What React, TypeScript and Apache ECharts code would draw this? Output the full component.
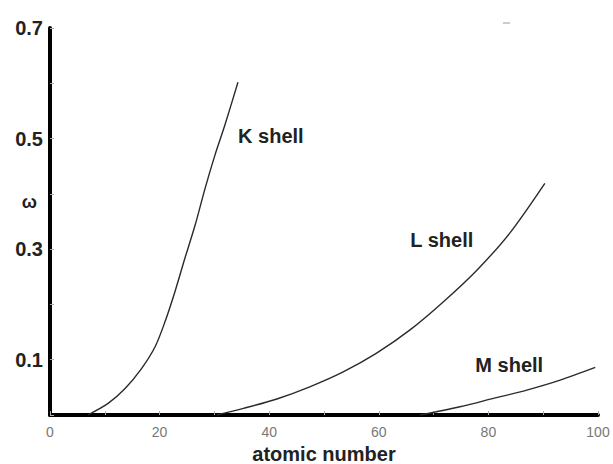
import React, { useEffect, useRef } from "react";
import * as echarts from "echarts";

// K shell (atomic number, fluorescence yield)
const kZ = [6.9, 10.6, 13.7, 16.7, 19.2, 21.0, 22.8, 24.6, 26.5, 28.3, 30.1, 31.9, 34.3];
const kW = [0, 0.021, 0.048, 0.084, 0.124, 0.169, 0.223, 0.283, 0.344, 0.41, 0.47, 0.524, 0.602];
// L shell
const lZ = [30.4, 35.3, 41.4, 47.4, 53.5, 59.6, 65.7, 71.8, 77.9, 83.9, 90.3];
const lW = [0, 0.012, 0.029, 0.051, 0.078, 0.112, 0.154, 0.205, 0.262, 0.329, 0.419];
// M shell
const mZ = [67.5, 74.8, 80.9, 87.0, 93.1, 99.5];
const mW = [0, 0.015, 0.03, 0.045, 0.063, 0.086];

const seriesNames = ["K shell", "L shell", "M shell"];
// label anchor positions (data coords)
const labelZ = [40.3, 71.5, 83.8];
const labelW = [0.505, 0.316, 0.09];

const yLabels: Record<string, string> = { "0.1": "0.1", "0.3": "0.3", "0.5": "0.5", "0.7": "0.7" };

const FONT = "'Liberation Sans', Arial, Helvetica, sans-serif";

export default function App() {
  const ref = useRef<HTMLDivElement>(null);
  useEffect(() => {
    if (!ref.current) return;
    const chart = echarts.init(ref.current, null, { renderer: "svg" });
    const zs = [kZ, lZ, mZ];
    const ws = [kW, lW, mW];
    const series = seriesNames.map((name, i) => ({
      name,
      type: "line",
      smooth: 0.3,
      showSymbol: false,
      symbol: "none",
      data: zs[i].map((z, j) => [z, ws[i][j]]),
      lineStyle: { color: "#2a2a2a", width: 1.4 },
      markPoint: {
        symbol: "circle",
        symbolSize: 0,
        data: [
          {
            coord: [labelZ[i], labelW[i]],
            label: {
              show: true,
              formatter: name,
              position: "inside",
              color: "#222",
              fontWeight: "bold",
              fontSize: 20,
              fontFamily: FONT,
            },
          },
        ],
      },
    }));
    chart.setOption({
      animation: false,
      backgroundColor: "#fff",
      grid: { left: 50, right: 15, top: 28, bottom: 49, containLabel: false, outerBoundsMode: "none" },
      xAxis: {
        type: "value",
        min: 0,
        max: 100,
        interval: 10,
        name: "atomic number",
        nameLocation: "middle",
        nameGap: 29,
        nameMoveOverlap: false,
        nameTextStyle: { color: "#222", fontWeight: "bold", fontSize: 20, fontFamily: FONT },
        axisLine: { show: true, lineStyle: { color: "#000", width: 4 } },
        axisTick: { show: true, inside: true, length: 4, lineStyle: { color: "#aaa", width: 1 } },
        axisLabel: {
          color: "#777",
          fontSize: 14,
          fontFamily: FONT,
          margin: 10,
          formatter: (v: number) => (v % 20 === 0 ? String(v) : ""),
        },
        splitLine: { show: false },
      },
      yAxis: {
        type: "value",
        min: 0,
        max: 0.7,
        interval: 0.1,
        name: "ω",
        nameLocation: "middle",
        nameRotate: 0,
        nameGap: 13,
        nameMoveOverlap: false,
        nameTextStyle: {
          color: "#222",
          fontWeight: "bold",
          fontSize: 18,
          fontFamily: FONT,
          verticalAlign: "bottom",
          lineHeight: 40,
        },
        axisLine: { show: true, lineStyle: { color: "#000", width: 4 } },
        axisTick: { show: true, inside: true, length: 4, lineStyle: { color: "#aaa", width: 1 } },
        axisLabel: {
          color: "#222",
          fontWeight: "bold",
          fontSize: 20,
          fontFamily: FONT,
          margin: 7,
          formatter: (v: number) => yLabels[(Math.round(v * 10) / 10).toFixed(1)] || "",
        },
        splitLine: { show: false },
      },
      graphic: [
        { type: "rect", left: 503, top: 22, shape: { width: 7, height: 2 }, style: { fill: "#ccc" } },
      ],
      series,
    });
    return () => chart.dispose();
  }, []);
  return <div ref={ref} style={{ width: 613, height: 464, position: "absolute", left: 0, top: 0 }} />;
}
